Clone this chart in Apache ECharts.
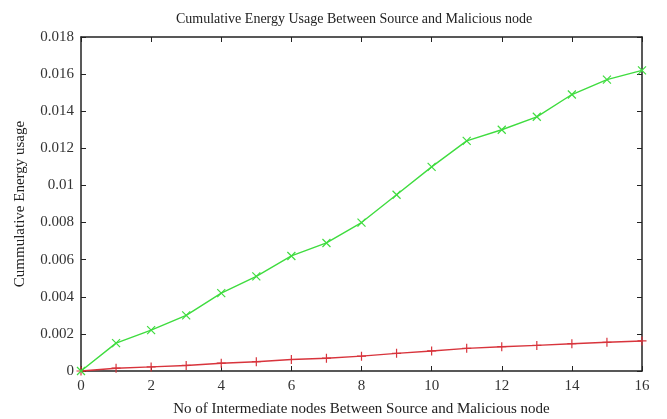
<!DOCTYPE html>
<html><head><meta charset="utf-8">
<script src="https://cdn.jsdelivr.net/npm/echarts@6/dist/echarts.min.js"></script>
<style>html,body{margin:0;padding:0;background:#fff}#c{width:667px;height:419px}</style>
</head><body><div id="c"></div>
<script>
const categories = [0,1,2,3,4,5,6,7,8,9,10,11,12,13,14,15,16];
const greenValues = [0,0.0015,0.0022,0.003,0.0042,0.0051,0.0062,0.0069,0.008,0.0095,0.011,0.0124,0.0130,0.0137,0.0149,0.0157,0.0162];
const redValues = [0,0.00015,0.00022,0.0003,0.00042,0.0005,0.00062,0.00069,0.0008,0.00095,0.00108,0.00122,0.00131,0.00138,0.00147,0.00155,0.00162];
const titleText = 'Cumulative Energy Usage Between Source and Malicious node';
const xName = 'No of Intermediate nodes Between Source and Malicious node';
const yName = 'Cummulative Energy usage';

const FONT = '"Liberation Serif", "DejaVu Serif", serif';
const GREEN = '#3fdc3f';
const RED = '#d8343c';
const chart = echarts.init(document.getElementById('c'));
const pair = v => categories.map((x,i)=>[x,v[i]]);
const tickCommon = {show:true, inside:true, length:5, lineStyle:{color:'#222', width:1}};
const lineCommon = {show:true, onZero:false, lineStyle:{color:'#222', width:1.5}};
chart.setOption({
  animation:false,
  title:{text:titleText,left:171,top:7,textStyle:{fontFamily:FONT,fontSize:14,fontWeight:'normal',color:'#222'}},
  grid:{left:81,right:25,top:37,bottom:48,containLabel:false,outerBoundsMode:'none'},
  xAxis:[
    {type:'value',min:0,max:16,interval:2,position:'bottom',
     name:xName,nameLocation:'middle',nameGap:31,nameTextStyle:{fontFamily:FONT,fontSize:15,color:'#222'},
     axisLine:lineCommon,axisTick:tickCommon,splitLine:{show:false},
     axisLabel:{fontFamily:FONT,fontSize:15,color:'#333',margin:8}},
    {type:'value',min:0,max:16,interval:2,position:'top',
     axisLine:lineCommon,axisTick:tickCommon,splitLine:{show:false},axisLabel:{show:false}}
  ],
  yAxis:[
    {type:'value',min:0,max:0.018,interval:0.002,position:'left',
     name:yName,nameLocation:'middle',nameGap:53,nameRotate:90,nameTextStyle:{fontFamily:FONT,fontSize:15,color:'#222'},
     axisLine:lineCommon,axisTick:tickCommon,splitLine:{show:false},
     axisLabel:{fontFamily:FONT,fontSize:15,color:'#333',margin:7,formatter:v=>String(Math.round(v*1000)/1000)}},
    {type:'value',min:0,max:0.018,interval:0.002,position:'right',
     axisLine:lineCommon,axisTick:tickCommon,splitLine:{show:false},axisLabel:{show:false}}
  ],
  series:[
    {type:'line',data:pair(redValues),xAxisIndex:0,yAxisIndex:0,
     lineStyle:{color:RED,width:1.4},symbol:'path://M5,0L5,10M0,5L10,5',symbolSize:9,
     itemStyle:{color:'none',borderColor:RED,borderWidth:1.2},z:3},
    {type:'line',data:pair(greenValues),xAxisIndex:0,yAxisIndex:0,
     lineStyle:{color:GREEN,width:1.4},symbol:'path://M0,0L10,10M10,0L0,10',symbolSize:8,
     itemStyle:{color:'none',borderColor:GREEN,borderWidth:1.2},z:4}
  ]
});
</script></body></html>
